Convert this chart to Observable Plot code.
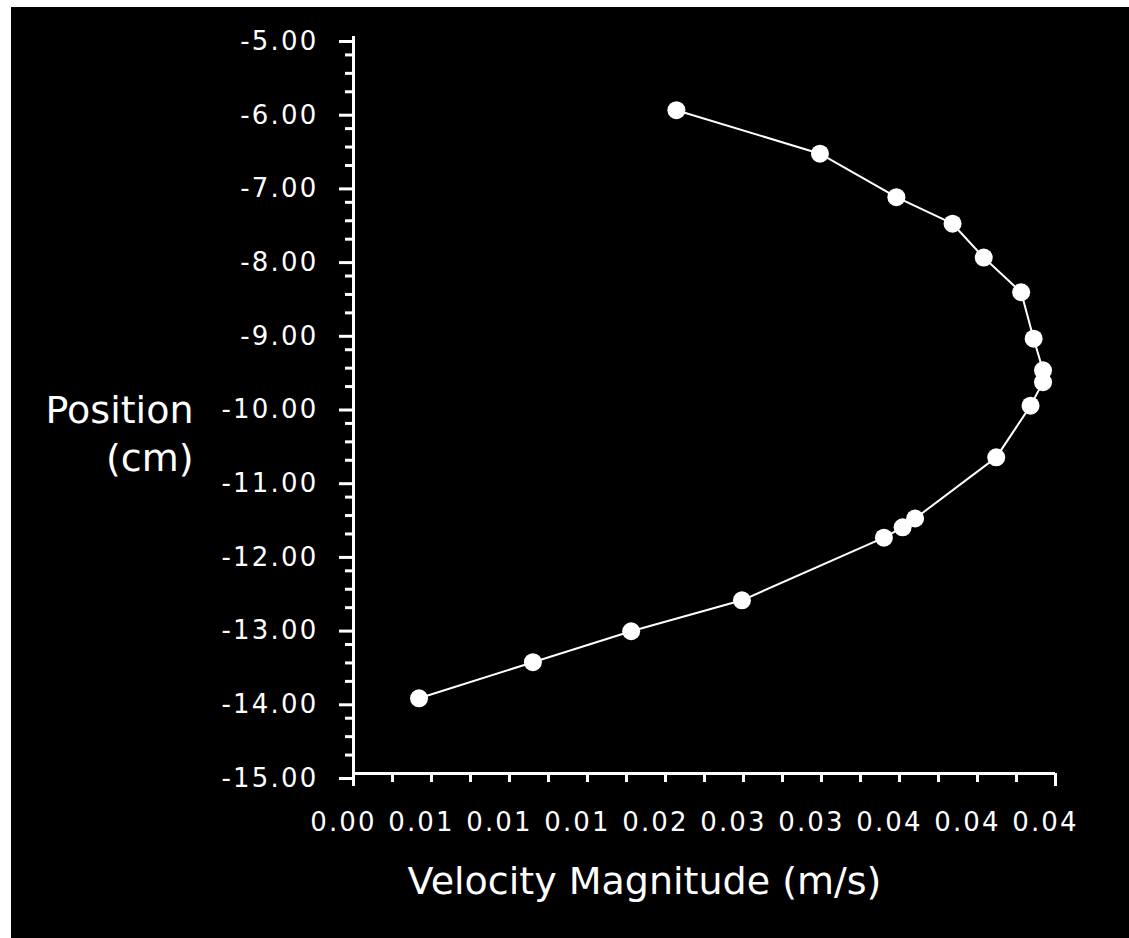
<!DOCTYPE html>
<html>
<head>
<meta charset="utf-8">
<script src="https://cdn.jsdelivr.net/npm/d3@7"></script>
<script src="https://cdn.jsdelivr.net/npm/@observablehq/plot@0.6"></script>
<style>
  html, body { margin: 0; padding: 0; background: #ffffff; }
  #chart { position: absolute; left: 11px; top: 7px; width: 1118px; height: 931px; background: #000; }
  #chart svg { background: #000; }
  g[aria-label="y-axis tick label"] text, g[aria-label="x-axis tick label"] text { letter-spacing: 2.2px; }
  g[aria-label="y-title"] text { letter-spacing: 3px; }
  g[aria-label="x-title"] text { letter-spacing: 0.4px; }
</style>
</head>
<body>
<div id="chart"></div>
<script>
// Velocity magnitude (m/s)
const velocity = [0.0207, 0.0299, 0.0348, 0.0384, 0.0404, 0.0428, 0.0436, 0.0442, 0.0442,
                  0.0434, 0.0412, 0.0360, 0.0352, 0.0340, 0.0249, 0.0178, 0.0115, 0.0042];
// Position (cm)
const position = [-6.00, -6.59, -7.18, -7.54, -8.00, -8.47, -9.10, -9.53, -9.69,
                  -10.01, -10.71, -11.54, -11.66, -11.80, -12.65, -13.07, -13.49, -13.98];

const xTickValues = [0, 0.005, 0.01, 0.015, 0.02, 0.025, 0.03, 0.035, 0.04, 0.045];
const xTickLabels = ["0.00", "0.01", "0.01", "0.01", "0.02", "0.03", "0.03", "0.04", "0.04", "0.04"];
const yTickValues = [-15, -14, -13, -12, -11, -10, -9, -8, -7, -6, -5];
const yTickLabels = ["-15.00", "-14.00", "-13.00", "-12.00", "-11.00", "-10.00", "-9.00", "-8.00", "-7.00", "-6.00", "-5.00"];
const xTitle = ["Velocity Magnitude (m/s)"];
const yTitle = ["Position\n(cm)"];

const data = velocity.map((v, i) => ({v, p: position[i]}));

const xMinor = d3.range(0, 19).map(i => +(i * 0.0025).toFixed(4));
const yMinor = d3.range(0, 41).map(i => -15 + i * 0.25).filter(d => !Number.isInteger(d));

const font = "DejaVu Sans, Verdana, sans-serif";

const plot = Plot.plot({
  width: 1118,
  height: 931,
  marginLeft: 342,
  marginRight: 74,
  marginTop: 29,
  marginBottom: 165,
  style: {background: "#000", color: "#fff", fontFamily: font},
  x: {domain: [0, 0.045], axis: null},
  y: {domain: [-15, -5], axis: null},
  marks: [
    // axis lines
    Plot.ruleY([-15], {x1: 0, x2: 0.045, stroke: "#fff", strokeWidth: 3}),
    Plot.ruleX([0], {y1: -15, y2: -5, stroke: "#fff", strokeWidth: 3}),
    // y minor ticks
    Plot.axisY({ticks: yMinor, tickSize: 8, text: null, stroke: "#fff", strokeWidth: 3, label: null}),
    // y major ticks + labels
    Plot.axisY({
      ticks: yTickValues, tickSize: 14, tickPadding: 21, dy: 5,
      tickFormat: d => yTickLabels[yTickValues.indexOf(d)],
      stroke: "#fff", strokeWidth: 3, fill: "#fff",
      fontSize: 26, fontFamily: font, label: null
    }),
    // x minor ticks
    Plot.axisX({ticks: xMinor, tickSize: 9, text: null, stroke: "#fff", strokeWidth: 3, label: null}),
    // x end ticks
    Plot.axisX({ticks: [0, 0.045], tickSize: 13, text: null, stroke: "#fff", strokeWidth: 3, label: null}),
    // x labels
    Plot.axisX({
      ticks: xTickValues, tickSize: 0, tickPadding: 39, dx: -10,
      tickFormat: d => xTickLabels[xTickValues.indexOf(d)],
      fill: "#fff", fontSize: 26, fontFamily: font, label: null
    }),
    // titles
    Plot.text(xTitle, {frameAnchor: "bottom", lineAnchor: "bottom", dy: 120, dx: -60,
      fill: "#fff", fontSize: 38, fontFamily: font, ariaLabel: "x-title"}),
    Plot.text(yTitle, {frameAnchor: "left", textAnchor: "end", lineAnchor: "bottom", dx: -160, dy: 65.5,
      lineHeight: 1.24, fill: "#fff", fontSize: 38, fontFamily: font, ariaLabel: "y-title"}),
    // data
    Plot.line(data, {x: "v", y: "p", stroke: "#fff", strokeWidth: 2}),
    Plot.dot(data, {x: "v", y: "p", fill: "#fff", r: 9, stroke: null})
  ]
});
document.getElementById("chart").appendChild(plot);
</script>
</body>
</html>
